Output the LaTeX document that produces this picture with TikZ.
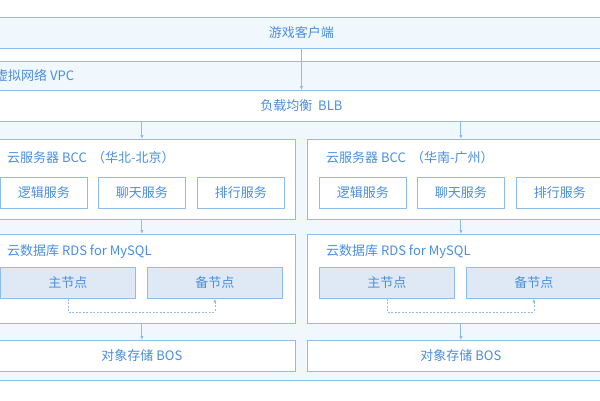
\documentclass[tikz,border=0pt]{standalone}
\usepackage{fontspec}
\setmainfont{Noto Sans CJK SC}
\usetikzlibrary{arrows.meta,positioning}
\definecolor{lineblue}{HTML}{8FBCEF}
\definecolor{textblue}{HTML}{4A8EDF}
\definecolor{bandfill}{HTML}{F1F8FD}
\definecolor{nodefill}{HTML}{DFE9F5}
\tikzset{
  box/.style={draw=lineblue, fill=white, line width=0.8pt, text=textblue,
    font=\fontsize{13}{15}\selectfont, inner sep=0pt, anchor=north west},
  band/.style={box, fill=bandfill},
  dbnode/.style={box, fill=nodefill},
  title/.style={text=textblue, font=\fontsize{13}{15}\selectfont, inner sep=0pt, anchor=west},
  flow/.style={-{Latex[length=4pt,width=3.5pt]}, draw=lineblue, line width=1pt},
  sync/.style={-{Latex[length=3.5pt,width=3pt]}, draw=lineblue, line width=0.6pt, dash pattern=on 2pt off 1.5pt},
}
\begin{document}
\begin{tikzpicture}[x=1pt,y=-1pt]
  \clip (0,0) rectangle (600,400);
  \fill[white] (0,0) rectangle (600,400);
  % VPC area and top rows
  \node[band, minimum width=650, minimum height=319] (vpc) at (-24,61) {};
  \node[title] (vpclabel) at (-5,75.5) {虚拟网络 VPC};
  \node[band, minimum width=650, minimum height=31] (client) at (-24,17) {游戏客户端};
  \node[box, minimum width=626, minimum height=31] (blb) at (-12,90) {负载均衡~~BLB};
  \draw[flow] (client.south) -- (blb.north);
  % one cluster per region
  \foreach \x/\n/\r in {-12/L/华北-北京, 307/R/华南-广州} {
    \node[box, minimum width=307, minimum height=80] (bcc\n) at (\x,139) {};
    \node[title] at (\x+19,158) {云服务器 BCC\hspace{0.4em}（\r）};
    \node[box, minimum width=87, minimum height=31] (logic\n) at (\x+12,177) {逻辑服务};
    \node[box, minimum width=87, minimum height=31] (chat\n) at (\x+110,177) {聊天服务};
    \node[box, minimum width=87, minimum height=31] (rank\n) at (\x+209,177) {排行服务};
    \node[box, minimum width=307, minimum height=89] (rds\n) at (\x,234) {};
    \node[title] at (\x+19,252) {云数据库 RDS for MySQL};
    \node[dbnode, minimum width=135, minimum height=31] (master\n) at (\x+12,267) {主节点};
    \node[dbnode, minimum width=135, minimum height=31] (slave\n) at (\x+159,267) {备节点};
    \node[box, minimum width=307, minimum height=31] (bos\n) at (\x,340) {对象存储 BOS};
    \draw[flow] (blb.south -| bcc\n.north) -- (bcc\n.north);
    \draw[flow] (bcc\n.south) -- (rds\n.north);
    \draw[flow] (rds\n.south) -- (bos\n.north);
    \draw[sync] (master\n.south) -- ++(0,13) -| (slave\n.south);
  }
\end{tikzpicture}
\end{document}
